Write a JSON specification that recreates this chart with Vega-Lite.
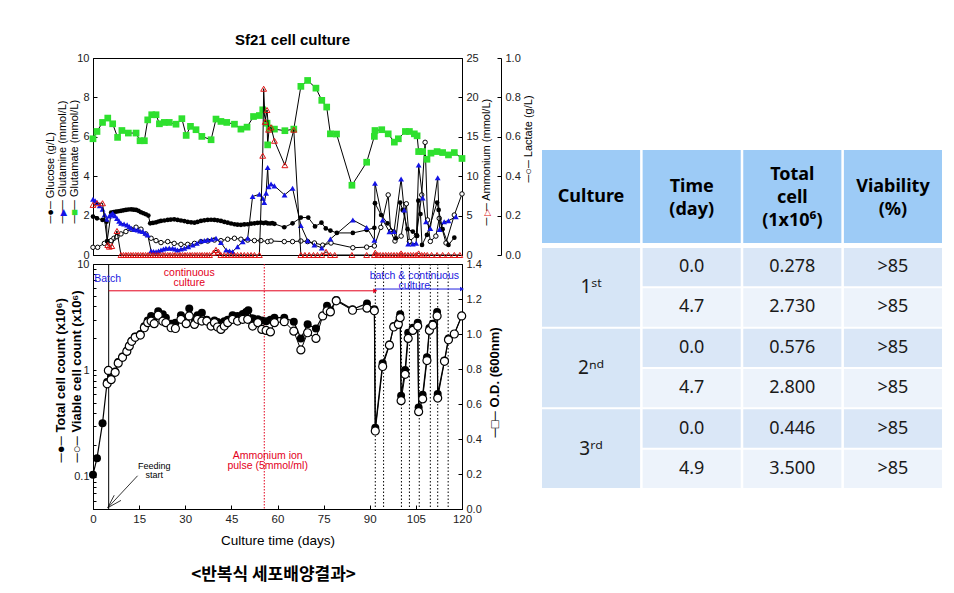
{
  "$schema": "https://vega.github.io/schema/vega-lite/v6.json",
  "background": "white",
  "padding": {"left": 43, "top": 32, "right": 5, "bottom": 5},
  "resolve": {"scale": {"color": "independent"}},
  "config": {
    "font": "Liberation Sans",
    "view": {"stroke": "black", "strokeWidth": 1},
    "axis": {"grid": false, "domainColor": "black", "tickColor": "black", "labelColor": "#222", "labelFont": "Liberation Sans", "labelFontSize": 11, "titleFont": "Liberation Sans", "titleFontWeight": "normal", "titleColor": "black", "tickSize": -4, "labelPadding": 8}
  },
  "datasets": {
    "glc": [{"t":0,"v":1.95},{"t":1.3,"v":1.86},{"t":3.1,"v":1.78},{"t":4.4,"v":1.69},{"t":4.6,"v":0.71},{"t":5.9,"v":2.15},{"t":6.7,"v":2.18},{"t":7.5,"v":2.2},{"t":8.3,"v":2.22},{"t":9.1,"v":2.24},{"t":9.9,"v":2.27},{"t":10.7,"v":2.29},{"t":11.5,"v":2.31},{"t":12.4,"v":2.32},{"t":13.2,"v":2.3},{"t":14,"v":2.29},{"t":14.8,"v":2.24},{"t":15.6,"v":2.17},{"t":16.4,"v":2.12},{"t":17.2,"v":2.07},{"t":18,"v":2},{"t":18.6,"v":1.61},{"t":19.5,"v":1.63},{"t":20.5,"v":1.66},{"t":21.3,"v":1.7},{"t":22.1,"v":1.73},{"t":23.2,"v":1.75},{"t":24.3,"v":1.78},{"t":25.3,"v":1.8},{"t":26.4,"v":1.81},{"t":27.5,"v":1.78},{"t":28.6,"v":1.75},{"t":29.7,"v":1.72},{"t":30.8,"v":1.68},{"t":31.9,"v":1.66},{"t":33,"v":1.64},{"t":34,"v":1.68},{"t":35.1,"v":1.73},{"t":36.2,"v":1.76},{"t":37.3,"v":1.78},{"t":38.4,"v":1.79},{"t":39.5,"v":1.78},{"t":40.5,"v":1.76},{"t":41.6,"v":1.73},{"t":42.7,"v":1.68},{"t":43.8,"v":1.64},{"t":44.9,"v":1.6},{"t":46,"v":1.56},{"t":47,"v":1.54},{"t":48.1,"v":1.53},{"t":49.2,"v":1.55},{"t":50.3,"v":1.56},{"t":51.4,"v":1.59},{"t":52.5,"v":1.61},{"t":53.5,"v":1.63},{"t":54.6,"v":1.64},{"t":55.5,"v":1.62},{"t":56.2,"v":1.65},{"t":56.8,"v":1.61},{"t":57.6,"v":1.6},{"t":58.3,"v":1.62},{"t":59,"v":1.58},{"t":62.2,"v":1.41},{"t":64.9,"v":1.61},{"t":67.6,"v":1.9},{"t":70,"v":1.9},{"t":72.2,"v":1.45},{"t":74.3,"v":1.64},{"t":75.7,"v":1.35},{"t":77.2,"v":1.24},{"t":79.3,"v":1.12},{"t":84.5,"v":1.12},{"t":89,"v":1.27},{"t":91.5,"v":1.38},{"t":91.7,"v":2.63},{"t":93.7,"v":2.03},{"t":95.8,"v":1.61},{"t":97.8,"v":1.19},{"t":98.5,"v":0.85},{"t":99.9,"v":2.66},{"t":100.7,"v":2.29},{"t":102.3,"v":1.31},{"t":104,"v":1.19},{"t":105.4,"v":0.97},{"t":105.8,"v":2.76},{"t":106.5,"v":2.08},{"t":107,"v":0.51},{"t":108.6,"v":1.02},{"t":111.9,"v":2.66},{"t":112.4,"v":2.29},{"t":113.7,"v":1.31},{"t":115.6,"v":0.51},{"t":117.5,"v":0.88}],
    "gln": [{"t":0,"v":2.83},{"t":0.7,"v":2.75},{"t":1.3,"v":2.66},{"t":2.2,"v":2.5},{"t":3.1,"v":2.32},{"t":3.8,"v":2.05},{"t":4.4,"v":1.81},{"t":5.3,"v":1.98},{"t":5.9,"v":2.05},{"t":6.4,"v":2.12},{"t":7.1,"v":2},{"t":7.8,"v":1.86},{"t":8.5,"v":1.72},{"t":9.1,"v":1.61},{"t":10.1,"v":1.57},{"t":11.1,"v":1.53},{"t":11.8,"v":1.45},{"t":12.4,"v":1.36},{"t":13.5,"v":1.3},{"t":14.5,"v":1.27},{"t":15.3,"v":1.22},{"t":16.2,"v":1.19},{"t":17,"v":1.1},{"t":17.8,"v":1.02},{"t":18.9,"v":0.2},{"t":19.7,"v":0.18},{"t":20.5,"v":0.17},{"t":21.3,"v":0.2},{"t":22.1,"v":0.25},{"t":22.9,"v":0.3},{"t":23.7,"v":0.34},{"t":24.8,"v":0.35},{"t":25.9,"v":0.34},{"t":26.7,"v":0.3},{"t":27.5,"v":0.25},{"t":28.6,"v":0.3},{"t":29.7,"v":0.34},{"t":31,"v":0.42},{"t":32.4,"v":0.51},{"t":33.8,"v":0.6},{"t":35.1,"v":0.71},{"t":36.2,"v":0.74},{"t":37.3,"v":0.76},{"t":38.6,"v":0.8},{"t":40,"v":0.85},{"t":41.6,"v":0.63},{"t":43.3,"v":0.25},{"t":44.4,"v":0.2},{"t":45.4,"v":0.17},{"t":47,"v":0.42},{"t":48.7,"v":0.68},{"t":50.3,"v":0.85},{"t":51.9,"v":2.97},{"t":54.1,"v":3.08},{"t":55.2,"v":2.88},{"t":55.7,"v":2.66},{"t":56.3,"v":3.14},{"t":56.8,"v":4.44},{"t":57.1,"v":3.47},{"t":57.9,"v":3.6},{"t":59,"v":3.51},{"t":62.3,"v":3.05},{"t":64.9,"v":3.39},{"t":67.6,"v":1.5},{"t":69.8,"v":0.73},{"t":72,"v":0.51},{"t":74.4,"v":0.36},{"t":77.2,"v":0.81},{"t":84.5,"v":1.78},{"t":89,"v":1.4},{"t":91.5,"v":0.75},{"t":91.7,"v":3.64},{"t":94.2,"v":1.78},{"t":96.4,"v":1.18},{"t":97.9,"v":1.19},{"t":100.2,"v":3.86},{"t":101.2,"v":2.28},{"t":102.5,"v":0.56},{"t":104,"v":0.56},{"t":105.1,"v":0.6},{"t":105.9,"v":4.57},{"t":107.2,"v":2.9},{"t":108.3,"v":1.69},{"t":109.7,"v":1.35},{"t":112.1,"v":3.92},{"t":112.7,"v":1.3},{"t":114.2,"v":1.69},{"t":115.6,"v":1.74},{"t":118,"v":1.94}],
    "glu": [{"t":0,"v":5.9},{"t":1.3,"v":6.27},{"t":3.1,"v":6.73},{"t":4.8,"v":6.95},{"t":6.4,"v":6.66},{"t":8,"v":5.97},{"t":9.4,"v":6.32},{"t":11.5,"v":6.19},{"t":14,"v":6.19},{"t":15.3,"v":5.8},{"t":16.7,"v":5.8},{"t":17.8,"v":6.86},{"t":19.1,"v":7.12},{"t":20.5,"v":7.12},{"t":21.6,"v":6.66},{"t":23.2,"v":6.73},{"t":24.8,"v":6.73},{"t":27,"v":6.64},{"t":28.9,"v":6.92},{"t":30.3,"v":6.07},{"t":31.7,"v":6.53},{"t":33.5,"v":6.36},{"t":35.4,"v":6.02},{"t":38.4,"v":5.85},{"t":40,"v":6.9},{"t":41.6,"v":6.78},{"t":43.5,"v":6.73},{"t":46,"v":6.64},{"t":48.1,"v":6.39},{"t":50.1,"v":6.49},{"t":52.2,"v":7.03},{"t":54.1,"v":7.08},{"t":55.2,"v":7.37},{"t":56.6,"v":6.69},{"t":56.8,"v":5.59},{"t":57.3,"v":6.44},{"t":59,"v":6.39},{"t":62.4,"v":6.31},{"t":65.3,"v":6.39},{"t":67.6,"v":8.56},{"t":69.8,"v":8.86},{"t":72.5,"v":8.47},{"t":74.4,"v":7.85},{"t":76,"v":7.51},{"t":77.2,"v":6.15},{"t":79.2,"v":6.14},{"t":84.2,"v":3.54},{"t":89,"v":4.71},{"t":91.5,"v":6.02},{"t":91.7,"v":6.32},{"t":93.9,"v":6.36},{"t":96,"v":6.15},{"t":98,"v":5.73},{"t":99.3,"v":5.9},{"t":101.6,"v":6.27},{"t":102.9,"v":6.27},{"t":104.5,"v":6.15},{"t":105.4,"v":6.05},{"t":105.9,"v":5.25},{"t":107.2,"v":5.25},{"t":108.6,"v":4.86},{"t":109.9,"v":5.17},{"t":111.9,"v":5.25},{"t":113.7,"v":5.2},{"t":115.6,"v":5.08},{"t":117.5,"v":5.2},{"t":120,"v":4.9}],
    "amm": [{"t":0,"v":6.36},{"t":1.3,"v":6.57},{"t":3.1,"v":6.57},{"t":4.8,"v":1.27},{"t":5.3,"v":1.06},{"t":6.1,"v":1.14},{"t":7.8,"v":3.05},{"t":9.1,"v":0},{"t":9.9,"v":0},{"t":10.7,"v":0},{"t":11.5,"v":0},{"t":12.3,"v":0},{"t":13.1,"v":0},{"t":13.9,"v":0},{"t":14.7,"v":0},{"t":15.5,"v":0},{"t":16.3,"v":0},{"t":17.1,"v":0},{"t":17.9,"v":0},{"t":18.7,"v":0},{"t":19.5,"v":0},{"t":20.3,"v":0},{"t":21.1,"v":0},{"t":21.9,"v":0},{"t":22.7,"v":0},{"t":23.5,"v":0},{"t":24.3,"v":0},{"t":25.1,"v":0},{"t":25.9,"v":0},{"t":26.7,"v":0},{"t":27.5,"v":0},{"t":28.3,"v":0},{"t":29.1,"v":0},{"t":29.9,"v":0},{"t":30.7,"v":0},{"t":31.5,"v":0},{"t":32.3,"v":0},{"t":33.1,"v":0},{"t":33.9,"v":0},{"t":34.7,"v":0},{"t":35.5,"v":0},{"t":36.3,"v":0},{"t":37.1,"v":0},{"t":37.9,"v":0},{"t":39.2,"v":0.3},{"t":40,"v":0.64},{"t":40.8,"v":0.4},{"t":41.6,"v":0},{"t":42.7,"v":0},{"t":43.8,"v":0},{"t":44.9,"v":0},{"t":46,"v":0},{"t":47,"v":0},{"t":48.1,"v":0},{"t":49.2,"v":0},{"t":50.3,"v":0},{"t":51.4,"v":0},{"t":52.5,"v":0},{"t":54.1,"v":0},{"t":55.2,"v":12.6},{"t":55.5,"v":21.1},{"t":56,"v":16.9},{"t":56.6,"v":18.4},{"t":57.1,"v":15.9},{"t":57.9,"v":16.2},{"t":59,"v":14.5},{"t":62.4,"v":11.4},{"t":65.3,"v":15.9},{"t":67.6,"v":0},{"t":68.9,"v":0},{"t":70.3,"v":0},{"t":71.7,"v":0},{"t":73,"v":0},{"t":74.4,"v":0},{"t":75.8,"v":0.4},{"t":77.2,"v":0},{"t":78.6,"v":0},{"t":84.2,"v":0},{"t":89,"v":0},{"t":91.5,"v":0},{"t":91.8,"v":0.3},{"t":92.6,"v":0},{"t":93.4,"v":0},{"t":94.3,"v":0},{"t":95.2,"v":0},{"t":96.1,"v":0},{"t":97,"v":0},{"t":97.9,"v":0},{"t":98.8,"v":0},{"t":99.7,"v":0},{"t":100.2,"v":0.2},{"t":100.6,"v":0},{"t":101.5,"v":0},{"t":102.4,"v":0},{"t":103.3,"v":0},{"t":104.2,"v":0},{"t":105.1,"v":0},{"t":105.9,"v":0.2},{"t":106.9,"v":0},{"t":107.8,"v":0},{"t":108.7,"v":0},{"t":110.1,"v":0},{"t":111.9,"v":0},{"t":113.7,"v":0},{"t":115.6,"v":0},{"t":117.5,"v":0},{"t":119.3,"v":0}],
    "lac": [{"t":0,"v":0.039},{"t":1.5,"v":0.039},{"t":3.7,"v":0.059},{"t":4.8,"v":0.068},{"t":5.9,"v":0.073},{"t":6.8,"v":0.085},{"t":7.8,"v":0.093},{"t":9.1,"v":0.107},{"t":10.7,"v":0.119},{"t":12.4,"v":0.131},{"t":14,"v":0.141},{"t":15.6,"v":0.131},{"t":17.2,"v":0.107},{"t":18.9,"v":0.085},{"t":20.5,"v":0.073},{"t":22.1,"v":0.063},{"t":24.3,"v":0.068},{"t":26.4,"v":0.059},{"t":28.6,"v":0.054},{"t":30.8,"v":0.054},{"t":33,"v":0.059},{"t":35.1,"v":0.068},{"t":37.3,"v":0.071},{"t":39.5,"v":0.076},{"t":41.6,"v":0.073},{"t":43.8,"v":0.08},{"t":46,"v":0.085},{"t":48.1,"v":0.08},{"t":50.3,"v":0.076},{"t":52.5,"v":0.073},{"t":54.6,"v":0.073},{"t":56.8,"v":0.068},{"t":57.9,"v":0.071},{"t":62.2,"v":0.068},{"t":64.9,"v":0.068},{"t":67.6,"v":0.071},{"t":69.8,"v":0.068},{"t":72,"v":0.061},{"t":74.7,"v":0.05},{"t":77.4,"v":0.061},{"t":84.5,"v":0.037},{"t":89,"v":0.04},{"t":91.5,"v":0.046},{"t":93.6,"v":0.14},{"t":96,"v":0.305},{"t":96.8,"v":0.12},{"t":98.2,"v":0.071},{"t":100.2,"v":0.096},{"t":101.9,"v":0.26},{"t":102.9,"v":0.069},{"t":105.2,"v":0.1},{"t":106.9,"v":0.305},{"t":108,"v":0.572},{"t":108.8,"v":0.178},{"t":109.7,"v":0.069},{"t":111.5,"v":0.096},{"t":112.6,"v":0.186},{"t":114.8,"v":0.061},{"t":117.5,"v":0.203},{"t":120,"v":0.31}],
    "total": [{"t":0,"v":0.105},{"t":1.3,"v":0.15},{"t":3.1,"v":0.32},{"t":4.6,"v":0.78},{"t":5,"v":1},{"t":5.9,"v":0.85},{"t":7.2,"v":0.98},{"t":8.2,"v":1.2},{"t":9.6,"v":1.35},{"t":11,"v":1.53},{"t":11.8,"v":1.72},{"t":12.6,"v":1.9},{"t":13.7,"v":2.08},{"t":15.4,"v":2.2},{"t":16.7,"v":2.6},{"t":17.8,"v":2.95},{"t":18.9,"v":3.25},{"t":19.9,"v":3.15},{"t":21.2,"v":3.6},{"t":22.7,"v":3.37},{"t":23.7,"v":3.13},{"t":25.4,"v":2.75},{"t":26.8,"v":2.8},{"t":28.6,"v":3.3},{"t":30.3,"v":3.1},{"t":31.3,"v":3.81},{"t":33,"v":3.1},{"t":34,"v":3.3},{"t":35.4,"v":3.49},{"t":37,"v":3},{"t":38.4,"v":2.8},{"t":39.5,"v":2.95},{"t":40.5,"v":2.85},{"t":41.6,"v":2.7},{"t":42.7,"v":2.9},{"t":43.8,"v":3},{"t":45.4,"v":3.3},{"t":47,"v":3.25},{"t":48.7,"v":3.4},{"t":49.8,"v":3.55},{"t":50.5,"v":3.68},{"t":51.9,"v":3.1},{"t":53.6,"v":3.02},{"t":54.9,"v":2.95},{"t":56.3,"v":2.9},{"t":57.7,"v":3},{"t":59,"v":3.13},{"t":62.2,"v":3.13},{"t":65.3,"v":2.87},{"t":67.6,"v":2},{"t":69.8,"v":2.71},{"t":72.5,"v":2.48},{"t":74.7,"v":3.25},{"t":76.1,"v":4.05},{"t":77.2,"v":3.68},{"t":79.1,"v":4.6},{"t":84.4,"v":3.76},{"t":89.1,"v":4.26},{"t":91.5,"v":3.75},{"t":91.8,"v":0.29},{"t":94.2,"v":1.17},{"t":96.4,"v":1.75},{"t":97.8,"v":2.61},{"t":99.3,"v":2.8},{"t":99.9,"v":3.37},{"t":100.2,"v":0.58},{"t":101.5,"v":1.01},{"t":102.5,"v":2.26},{"t":104,"v":2.52},{"t":105.6,"v":2.81},{"t":105.9,"v":0.45},{"t":107.2,"v":0.59},{"t":108.6,"v":1.33},{"t":109.4,"v":2.5},{"t":110.5,"v":2.75},{"t":111.9,"v":3.55},{"t":112.1,"v":0.6},{"t":114.3,"v":1.24},{"t":115.6,"v":2},{"t":117.5,"v":2.2},{"t":119.9,"v":3.25}],
    "viable": [{"t":4.6,"v":0.75},{"t":5,"v":1},{"t":5.9,"v":0.82},{"t":7.2,"v":0.96},{"t":8.2,"v":1.17},{"t":9.6,"v":1.33},{"t":11,"v":1.51},{"t":11.8,"v":1.69},{"t":12.6,"v":1.88},{"t":13.7,"v":2.05},{"t":15.4,"v":2.15},{"t":16.7,"v":2.52},{"t":17.8,"v":2.81},{"t":18.9,"v":2.91},{"t":19.9,"v":2.75},{"t":21.2,"v":3.3},{"t":22.7,"v":2.9},{"t":23.7,"v":2.81},{"t":25.4,"v":2.52},{"t":26.8,"v":2.48},{"t":28.6,"v":3.02},{"t":30.3,"v":2.75},{"t":31.3,"v":3.25},{"t":33,"v":2.71},{"t":34,"v":3.02},{"t":35.4,"v":2.91},{"t":37,"v":2.91},{"t":38.4,"v":2.61},{"t":39.5,"v":2.81},{"t":40.5,"v":2.56},{"t":41.6,"v":2.43},{"t":42.7,"v":2.61},{"t":43.8,"v":2.81},{"t":45.4,"v":3.02},{"t":47,"v":2.91},{"t":48.7,"v":3.02},{"t":50.3,"v":3.02},{"t":51.9,"v":2.61},{"t":53.6,"v":2.81},{"t":54.9,"v":2.43},{"t":56.3,"v":2.38},{"t":57.7,"v":2.3},{"t":59,"v":2.81},{"t":62.2,"v":2.87},{"t":65.3,"v":2.34},{"t":67.6,"v":1.56},{"t":69.8,"v":2.26},{"t":72.5,"v":2},{"t":74.7,"v":3.25},{"t":76.1,"v":3.63},{"t":77.2,"v":3.55},{"t":79.1,"v":4.51},{"t":84.4,"v":3.68},{"t":89.1,"v":3.85},{"t":91.5,"v":3.63},{"t":91.8,"v":0.27},{"t":94.2,"v":1.09},{"t":96.4,"v":1.73},{"t":97.8,"v":2.56},{"t":99.3,"v":2.71},{"t":99.9,"v":3.13},{"t":100.2,"v":0.52},{"t":101.5,"v":0.92},{"t":102.5,"v":2},{"t":104,"v":2.38},{"t":105.6,"v":2.61},{"t":105.9,"v":0.41},{"t":107.2,"v":0.54},{"t":108.6,"v":1.24},{"t":109.4,"v":2.38},{"t":110.5,"v":2.66},{"t":111.9,"v":3.25},{"t":112.1,"v":0.55},{"t":114.3,"v":1.22},{"t":115.6,"v":1.94},{"t":117.5,"v":2.2},{"t":119.9,"v":3.25}],
    "cycles": [{"t":91.8},{"t":94.5},{"t":100.3},{"t":102.9},{"t":106.1},{"t":109.7},{"t":112.1},{"t":115.5}],
    "phases": [{"phase":"continuous culture","t0":5.1,"t1":91.8,"v":5.6},{"phase":"batch & continuous culture","t0":91.8,"t1":120,"v":5.82}],
    "feedArrow": [{"t0":14.5,"v0":0.1026,"t1":4.8,"v1":0.0514},{"t0":6.9,"v0":0.0673,"t1":4.8,"v1":0.0514},{"t0":9.1,"v0":0.0602,"t1":4.8,"v1":0.0514}],
    "header": [{"col":"culture","label":"Culture"},{"col":"day","label":"Time\n(day)"},{"col":"total","label":"Total\ncell\n(1x10⁶)"},{"col":"viab","label":"Viability\n(%)"}],
    "groups": [{"col":"culture","culture":"1st","label":"1ˢᵗ"},{"col":"culture","culture":"2nd","label":"2ⁿᵈ"},{"col":"culture","culture":"3rd","label":"3ʳᵈ"}],
    "rows": [{"culture":"1st","row":"1","step":"start","day":"0.0","total":"0.278","viab":">85"},{"culture":"1st","row":"2","step":"end","day":"4.7","total":"2.730","viab":">85"},{"culture":"2nd","row":"3","step":"start","day":"0.0","total":"0.576","viab":">85"},{"culture":"2nd","row":"4","step":"end","day":"4.7","total":"2.800","viab":">85"},{"culture":"3rd","row":"5","step":"start","day":"0.0","total":"0.446","viab":">85"},{"culture":"3rd","row":"6","step":"end","day":"4.9","total":"3.500","viab":">85"}]
  },
  "hconcat": [
    {
      "bounds": "flush",
      "spacing": 9,
      "vconcat": [
        {
          "width": 369, "height": 197,
          "title": {"text": "Sf21 cell culture", "fontSize": 15, "fontWeight": "bold", "font": "Liberation Sans", "anchor": "middle", "frame": "group", "dx": 15, "offset": -11, "color": "black", "baseline": "bottom"},
          "layer": [
            {
              "data": {"name": "lac"},
              "encoding": {
                "x": {"field": "t", "type": "quantitative", "scale": {"domain": [0, 120]}, "axis": null},
                "y": {"field": "v", "type": "quantitative", "scale": {"domain": [0, 1]}, "axis": {"orient": "right", "offset": 39, "values": [0, 0.2, 0.4, 0.6, 0.8, 1], "format": ".1f", "title": "─○─ Lactate (g/L)", "titleFontSize": 11, "titleAngle": -90, "titleAlign": "left", "titleBaseline": "middle", "titleX": 27, "titleY": 124}}
              },
              "layer": [
                {"mark": {"type": "line", "color": "black", "strokeWidth": 1}},
                {"mark": {"type": "point", "shape": "circle", "filled": true, "fill": "white", "stroke": "black", "strokeWidth": 1, "size": 20, "opacity": 1}}
              ]
            },
            {
              "data": {"name": "glc"},
              "encoding": {
                "x": {"field": "t", "type": "quantitative", "scale": {"domain": [0, 120]}, "axis": null},
                "y": {"field": "v", "type": "quantitative", "scale": {"domain": [0, 10]}, "axis": {"orient": "left", "values": [0, 2, 4, 6, 8, 10], "title": "─●─ Glucose (g/L)", "titleFontSize": 11, "titleAngle": -90, "titleAlign": "left", "titleBaseline": "middle", "titleX": -43, "titleY": 165}}
              },
              "layer": [
                {"mark": {"type": "line", "color": "black", "strokeWidth": 1}},
                {"mark": {"type": "point", "shape": "circle", "filled": true, "color": "black", "size": 22, "opacity": 1}}
              ]
            },
            {
              "data": {"name": "gln"},
              "encoding": {
                "x": {"field": "t", "type": "quantitative", "scale": {"domain": [0, 120]}, "axis": null},
                "y": {"field": "v", "type": "quantitative", "scale": {"domain": [0, 10]}, "axis": {"orient": "left", "labels": false, "ticks": false, "domain": false, "title": "─── Glutamine (mmol/L)", "titleFontSize": 11, "titleAngle": -90, "titleAlign": "left", "titleBaseline": "middle", "titleX": -31, "titleY": 165}}
              },
              "layer": [
                {"mark": {"type": "line", "color": "black", "strokeWidth": 1}},
                {"mark": {"type": "point", "shape": "triangle-up", "filled": true, "color": "#1414e6", "size": 34, "opacity": 1}}
              ]
            },
            {
              "data": {"name": "glu"},
              "encoding": {
                "x": {"field": "t", "type": "quantitative", "scale": {"domain": [0, 120]}, "axis": null},
                "y": {"field": "v", "type": "quantitative", "scale": {"domain": [0, 10]}, "axis": {"orient": "left", "labels": false, "ticks": false, "domain": false, "title": "─── Glutamate (mmol/L)", "titleFontSize": 11, "titleAngle": -90, "titleAlign": "left", "titleBaseline": "middle", "titleX": -19, "titleY": 165}}
              },
              "layer": [
                {"mark": {"type": "line", "color": "black", "strokeWidth": 1}},
                {"mark": {"type": "point", "shape": "square", "filled": true, "color": "#2ee02e", "size": 45, "opacity": 1}}
              ]
            },
            {
              "data": {"values": [{}]},
              "mark": {"type": "point", "opacity": 0},
              "encoding": {
                "x": {"datum": 0, "type": "quantitative", "scale": {"domain": [0, 120]}, "axis": null},
                "y": {"datum": 0, "type": "quantitative", "scale": {"domain": [0, 10]}, "axis": {"orient": "left", "labels": false, "ticks": false, "domain": false, "title": "▶", "titleColor": "#1414e6", "titleFontSize": 9, "titleAngle": -90, "titleAlign": "center", "titleBaseline": "middle", "titleX": -31, "titleY": 154}}
              }
            },
            {
              "data": {"values": [{}]},
              "mark": {"type": "point", "opacity": 0},
              "encoding": {
                "x": {"datum": 0, "type": "quantitative", "scale": {"domain": [0, 120]}, "axis": null},
                "y": {"datum": 0, "type": "quantitative", "scale": {"domain": [0, 10]}, "axis": {"orient": "left", "labels": false, "ticks": false, "domain": false, "title": "■", "titleColor": "#2ee02e", "titleFontSize": 11, "titleAngle": -90, "titleAlign": "center", "titleBaseline": "middle", "titleX": -19, "titleY": 154}}
              }
            },
            {
              "data": {"name": "amm"},
              "mark": {"type": "line", "color": "black", "strokeWidth": 1},
              "encoding": {
                "x": {"field": "t", "type": "quantitative", "scale": {"domain": [0, 120]}, "axis": null},
                "y": {"field": "v", "type": "quantitative", "scale": {"domain": [0, 25]}, "axis": {"orient": "right", "values": [0, 5, 10, 15, 20, 25], "title": "─\u2009\u2009\u2009─ Ammonium (mmol/L)", "titleFontSize": 11, "titleAngle": -90, "titleAlign": "left", "titleBaseline": "middle", "titleX": 24, "titleY": 167}}
              }
            },
            {
              "data": {"name": "amm"},
              "mark": {"type": "point", "shape": "triangle-up", "filled": false, "color": "#e01414", "strokeWidth": 1, "size": 34, "opacity": 1},
              "encoding": {
                "x": {"field": "t", "type": "quantitative", "scale": {"domain": [0, 120]}, "axis": null},
                "y": {"field": "v", "type": "quantitative", "scale": {"domain": [0, 25]}, "axis": {"orient": "right", "labels": false, "ticks": false, "domain": false, "title": "▷", "titleColor": "#e01414", "titleFontSize": 9, "titleAngle": -90, "titleAlign": "center", "titleBaseline": "middle", "titleX": 24, "titleY": 154}}
              }
            }
          ],
          "resolve": {"scale": {"y": "independent"}}
        },
        {
          "width": 369, "height": 245,
          "title": {"text": "<반복식 세포배양결과>", "orient": "bottom", "anchor": "middle", "frame": "group", "dx": -4, "offset": 20, "font": "Noto Sans CJK KR", "fontSize": 17, "fontWeight": "bold", "color": "black", "baseline": "top"},
          "layer": [
            {
              "layer": [
                {
                  "data": {"values": [{"t": 5.1}]},
                  "mark": {"type": "rule", "color": "black", "strokeWidth": 1},
                  "encoding": {"x": {"field": "t", "type": "quantitative", "scale": {"domain": [0, 120]}}}
                },
                {
                  "data": {"values": [{"t": 55.7}]},
                  "mark": {"type": "rule", "color": "#e3001b", "strokeWidth": 1, "strokeDash": [1.5, 1.5]},
                  "encoding": {"x": {"field": "t", "type": "quantitative", "scale": {"domain": [0, 120]}}}
                },
                {
                  "data": {"name": "cycles"},
                  "mark": {"type": "rule", "color": "black", "strokeWidth": 1, "strokeDash": [1.5, 2]},
                  "encoding": {"x": {"field": "t", "type": "quantitative", "scale": {"domain": [0, 120]}}}
                },
                {
                  "data": {"name": "phases"},
                  "mark": {"type": "rule", "strokeWidth": 1},
                  "encoding": {
                    "x": {"field": "t0", "type": "quantitative", "scale": {"domain": [0, 120]}},
                    "x2": {"field": "t1"},
                    "y": {"field": "v", "type": "quantitative", "scale": {"type": "log", "domain": [0.05, 10]}},
                    "color": {"field": "phase", "type": "nominal", "scale": {"domain": ["continuous culture", "batch & continuous culture"], "range": ["#e3001b", "#2020e0"]}, "legend": null}
                  }
                },
                {
                  "data": {"name": "phases"},
                  "mark": {"type": "point", "shape": "triangle-right", "filled": true, "size": 22, "opacity": 1},
                  "encoding": {
                    "x": {"field": "t1", "type": "quantitative", "scale": {"domain": [0, 120]}},
                    "y": {"field": "v", "type": "quantitative", "scale": {"type": "log", "domain": [0.05, 10]}},
                    "color": {"field": "phase", "type": "nominal", "scale": {"domain": ["continuous culture", "batch & continuous culture"], "range": ["#e3001b", "#2020e0"]}, "legend": null}
                  }
                },
                {
                  "data": {"name": "feedArrow"},
                  "mark": {"type": "rule", "color": "black", "strokeWidth": 0.8},
                  "encoding": {
                    "x": {"field": "t0", "type": "quantitative", "scale": {"domain": [0, 120]}},
                    "x2": {"field": "t1"},
                    "y": {"field": "v0", "type": "quantitative", "scale": {"type": "log", "domain": [0.05, 10]}},
                    "y2": {"field": "v1"}
                  }
                },
                {
                  "data": {"values": [{"label": "Batch", "t": 0.4, "v": 7.24}]},
                  "mark": {"type": "text", "align": "left", "baseline": "middle", "color": "#2020e0", "fontSize": 10.5},
                  "encoding": {
                    "x": {"field": "t", "type": "quantitative", "scale": {"domain": [0, 120]}},
                    "y": {"field": "v", "type": "quantitative", "scale": {"type": "log", "domain": [0.05, 10]}},
                    "text": {"field": "label"}
                  }
                },
                {
                  "data": {"values": [{"label": "continuous\nculture", "t": 31.3, "v": 8.19}, {"label": "Ammonium ion\npulse (5mmol/ml)", "t": 56.8, "v": 0.156}]},
                  "mark": {"type": "text", "align": "center", "baseline": "middle", "color": "#e3001b", "fontSize": 10.5, "lineBreak": "\n", "lineHeight": 10},
                  "encoding": {
                    "x": {"field": "t", "type": "quantitative", "scale": {"domain": [0, 120]}},
                    "y": {"field": "v", "type": "quantitative", "scale": {"type": "log", "domain": [0.05, 10]}},
                    "text": {"field": "label"}
                  }
                },
                {
                  "data": {"values": [{"label": "batch & continuous\nculture", "t": 104.5, "v": 7.78}]},
                  "mark": {"type": "text", "align": "center", "baseline": "middle", "color": "#2020e0", "fontSize": 10.5, "lineBreak": "\n", "lineHeight": 10},
                  "encoding": {
                    "x": {"field": "t", "type": "quantitative", "scale": {"domain": [0, 120]}},
                    "y": {"field": "v", "type": "quantitative", "scale": {"type": "log", "domain": [0.05, 10]}},
                    "text": {"field": "label"}
                  }
                },
                {
                  "data": {"values": [{"label": "Feeding\nstart", "t": 19.9, "v": 0.1265}]},
                  "mark": {"type": "text", "align": "center", "baseline": "middle", "color": "black", "fontSize": 9, "lineBreak": "\n", "lineHeight": 9},
                  "encoding": {
                    "x": {"field": "t", "type": "quantitative", "scale": {"domain": [0, 120]}},
                    "y": {"field": "v", "type": "quantitative", "scale": {"type": "log", "domain": [0.05, 10]}},
                    "text": {"field": "label"}
                  }
                },
                {
                  "data": {"name": "total"},
                  "encoding": {
                    "x": {"field": "t", "type": "quantitative", "scale": {"domain": [0, 120]}, "axis": {"values": [0, 15, 30, 45, 60, 75, 90, 105, 120], "labelFlush": false, "labelFontSize": 11.5, "title": "Culture time (days)", "titleFontSize": 13.5, "titlePadding": 9}},
                    "y": {"field": "v", "type": "quantitative", "scale": {"type": "log", "domain": [0.05, 10]}, "axis": {"orient": "left", "values": [0.05, 0.06, 0.07, 0.08, 0.09, 0.1, 0.2, 0.3, 0.4, 0.5, 0.6, 0.7, 0.8, 0.9, 1, 2, 3, 4, 5, 6, 7, 8, 9, 10], "tickSize": -3, "labelPadding": 7, "labelExpr": "datum.value == 0.1 ? '0.1' : datum.value == 1 ? '1' : datum.value == 10 ? '10' : ''", "title": "─●─ Total cell count (x10⁶)", "titleFontSize": 13, "titleFontWeight": "bold", "titleAngle": -90, "titleAlign": "left", "titleBaseline": "middle", "titleX": -33, "titleY": 198}}
                  },
                  "layer": [
                    {"mark": {"type": "line", "color": "black", "strokeWidth": 1.2}},
                    {"mark": {"type": "point", "shape": "circle", "filled": true, "color": "black", "size": 64, "opacity": 1}}
                  ]
                },
                {
                  "data": {"name": "viable"},
                  "encoding": {
                    "x": {"field": "t", "type": "quantitative", "scale": {"domain": [0, 120]}},
                    "y": {"field": "v", "type": "quantitative", "scale": {"type": "log", "domain": [0.05, 10]}}
                  },
                  "layer": [
                    {"mark": {"type": "line", "color": "black", "strokeWidth": 1}},
                    {"mark": {"type": "point", "shape": "circle", "filled": true, "fill": "white", "stroke": "black", "strokeWidth": 1.2, "size": 64, "opacity": 1}}
                  ]
                }
              ]
            },
            {
              "data": {"values": [{}]},
              "mark": {"type": "point", "opacity": 0},
              "encoding": {
                "x": {"datum": 0, "type": "quantitative", "scale": {"domain": [0, 120]}},
                "y": {"datum": 0, "type": "quantitative", "scale": {"domain": [0, 1]}, "axis": {"orient": "left", "labels": false, "ticks": false, "domain": false, "title": "─○─ Viable cell count (x10⁶)", "titleFontSize": 13, "titleFontWeight": "bold", "titleAngle": -90, "titleAlign": "left", "titleBaseline": "middle", "titleX": -17, "titleY": 198}}
              }
            },
            {
              "data": {"values": [{}]},
              "mark": {"type": "point", "opacity": 0},
              "encoding": {
                "x": {"datum": 0, "type": "quantitative", "scale": {"domain": [0, 120]}},
                "y": {"datum": 0, "type": "quantitative", "scale": {"domain": [0, 1.4]}, "axis": {"orient": "right", "values": [0, 0.2, 0.4, 0.6, 0.8, 1, 1.2, 1.4], "format": ".1f", "title": "─□─ O.D. (600nm)", "titleFontSize": 13, "titleFontWeight": "bold", "titleAngle": -90, "titleAlign": "left", "titleBaseline": "middle", "titleX": 32, "titleY": 173}}
              }
            }
          ],
          "resolve": {"scale": {"y": "independent"}}
        }
      ]
    },
    {
      "spacing": 5,
      "vconcat": [
        {
          "width": 400, "height": 87,
          "view": {"stroke": null},
          "data": {"values": [{}]},
          "mark": {"type": "text"},
          "encoding": {"text": {"value": ""}}
        },
        {
          "width": 400, "height": 93,
          "view": {"stroke": null},
          "data": {"name": "header"},
          "encoding": {
            "x": {"field": "col", "type": "nominal", "scale": {"domain": ["culture", "day", "total", "viab"], "paddingInner": 0.025, "paddingOuter": 0}, "axis": null},
            "text": {"field": "label"}
          },
          "layer": [
            {"mark": {"type": "rect", "color": "#9DCBF6"}},
            {"transform": [{"filter": "datum.col == 'culture'"}], "mark": {"type": "text", "font": "Noto Sans", "fontSize": 18, "fontWeight": "bold", "color": "black", "lineBreak": "\n", "lineHeight": 23, "baseline": "middle"}},
            {"transform": [{"filter": "datum.col == 'day' || datum.col == 'viab'"}], "mark": {"type": "text", "font": "Noto Sans", "fontSize": 18, "fontWeight": "bold", "color": "black", "lineBreak": "\n", "lineHeight": 23, "baseline": "middle", "dy": -10}},
            {"transform": [{"filter": "datum.col == 'total'"}], "mark": {"type": "text", "font": "Noto Sans", "fontSize": 18, "fontWeight": "bold", "color": "black", "lineBreak": "\n", "lineHeight": 23, "baseline": "middle", "dy": -22}}
          ]
        },
        {
          "width": 400, "height": 240,
          "view": {"stroke": null},
          "layer": [
            {
              "data": {"name": "groups"},
              "encoding": {
                "x": {"field": "col", "type": "nominal", "scale": {"domain": ["culture", "day", "total", "viab"], "paddingInner": 0.025, "paddingOuter": 0}, "axis": null},
                "y": {"field": "culture", "type": "nominal", "scale": {"domain": ["1st", "2nd", "3rd"], "paddingInner": 0.025, "paddingOuter": 0}, "axis": null}
              },
              "layer": [
                {"mark": {"type": "rect", "color": "#D6E5F6"}},
                {"mark": {"type": "text", "font": "Noto Sans", "fontSize": 19, "color": "#1a1a1a", "baseline": "middle"}, "encoding": {"text": {"field": "label"}}}
              ]
            },
            {
              "data": {"name": "rows"},
              "transform": [{"fold": ["day", "total", "viab"], "as": ["col", "label"]}],
              "encoding": {
                "x": {"field": "col", "type": "nominal", "scale": {"domain": ["culture", "day", "total", "viab"], "paddingInner": 0.025, "paddingOuter": 0}, "axis": null},
                "y": {"field": "row", "type": "nominal", "scale": {"domain": ["1", "2", "3", "4", "5", "6"], "paddingInner": 0.05, "paddingOuter": 0}, "axis": null}
              },
              "layer": [
                {"mark": {"type": "rect"}, "encoding": {"color": {"field": "step", "type": "nominal", "scale": {"domain": ["start", "end"], "range": ["#DAE7F7", "#EDF3FB"]}, "legend": null}}},
                {"mark": {"type": "text", "font": "Noto Sans", "fontSize": 18, "color": "#1a1a1a", "baseline": "middle"}, "encoding": {"text": {"field": "label"}}}
              ]
            }
          ],
          "resolve": {"scale": {"y": "independent"}}
        }
      ]
    }
  ],
  "spacing": 8
}
